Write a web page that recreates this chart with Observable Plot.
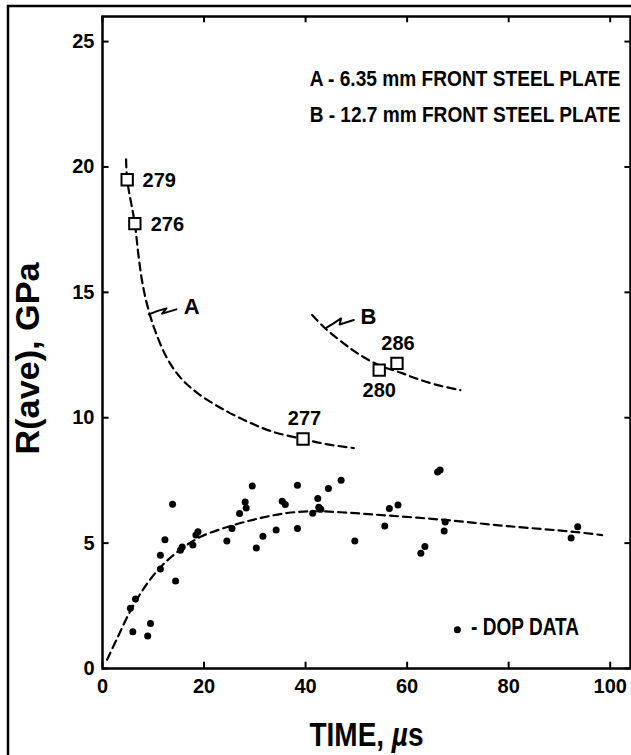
<!DOCTYPE html>
<html>
<head>
<meta charset="utf-8">
<script src="https://cdn.jsdelivr.net/npm/d3@7"></script>
<script src="https://cdn.jsdelivr.net/npm/@observablehq/plot@0.6"></script>
<style>
  html, body { margin: 0; padding: 0; background: #fff; overflow: hidden; }
  #chart { width: 631px; height: 755px; }
  #chart svg text { font-weight: 700; fill: #000; }
</style>
</head>
<body>
<div id="chart"></div>
<script>
// ---- axis ticks
const xTicks = [0, 20, 40, 60, 80, 100];
const yTicks = [0, 5, 10, 15, 20, 25];

// ---- DOP data (time in µs, R(ave) in GPa)
const dopTime = [5.97,5.5,6.5,8.9,9.45,11.4,11.4,12.3,13.8,14.4,15.35,15.7,17.8,18.4,18.8,24.5,25.5,27.0,28.1,28.3,29.5,30.3,31.6,34.2,35.4,36.0,38.4,38.4,41.4,42.4,42.6,43.0,44.5,47.0,49.7,55.6,56.5,58.2,62.7,63.5,66.0,66.5,67.3,67.5,92.3,93.6];
const dopR = [1.47,2.40,2.77,1.30,1.79,3.97,4.52,5.13,6.55,3.49,4.72,4.85,4.92,5.32,5.45,5.08,5.58,6.18,6.64,6.40,7.28,4.81,5.27,5.52,6.67,6.54,7.31,5.58,6.19,6.78,6.43,6.35,7.18,7.51,5.08,5.68,6.38,6.52,4.60,4.87,7.84,7.92,5.48,5.84,5.20,5.65];

// ---- DOP fit curve
const fitTime = [0.9,3,5.5,8.5,11.7,15.4,19.3,25.2,31.1,36.4,41.6,46.9,53.4,66.5,79.7,92.8,98.4];
const fitR    = [0.35,1.25,2.3,3.3,4.1,4.75,5.25,5.68,6.0,6.2,6.27,6.23,6.14,5.94,5.68,5.45,5.32];

// ---- Curve A (6.35 mm front steel plate)
const curveATime = [4.65,4.86,6.37,7.1,7.8,8.8,10.4,12.7,15.35,18.6,23.2,28.5,33.7,39.5,44.0,49.5];
const curveAR    = [20.3,19.49,17.74,16.45,15.45,14.5,13.45,12.38,11.6,11.0,10.4,9.85,9.43,9.15,8.95,8.79];

// ---- Curve B (12.7 mm front steel plate)
const curveBTime = [41.3,43.9,48.8,52.0,55.0,58.7,62.0,66.0,70.5];
const curveBR    = [14.1,13.56,12.77,12.35,12.05,11.8,11.55,11.3,11.1];

// ---- test shots (squares)
const shotId   = ["279","276","277","280","286"];
const shotTime = [4.86,6.37,39.5,54.5,58.0];
const shotR    = [19.49,17.74,9.15,11.9,12.17];
// labels to the right of their square
const sideLabel     = ["279","276"];
const sideLabelTime = [7.9,9.5];
const sideLabelR    = [19.47,17.7];
// labels centred above / below their square
const capLabel     = ["277","280","286"];
const capLabelTime = [39.8,54.5,58.2];
const capLabelR    = [9.95,11.1,12.97];

// ---- curve tags (zig-zag leaders)
const zigATime = [9.11,10.89,12.6,11.75,14.57];
const zigAR    = [14.12,14.26,14.36,14.15,14.32];
const zigBTime = [43.9,45.5,47.0,46.7,49.5];
const zigBR    = [13.56,13.76,13.96,13.72,13.9];
const tagText = ["A","B"];
const tagTime = [16.0,50.8];
const tagR    = [14.42,14.03];

// ---- legend
const legendText = ["A - 6.35 mm FRONT STEEL PLATE","B - 12.7 mm FRONT STEEL PLATE"];
const legendTime = [40.8,40.8];
const legendR    = [23.52,22.08];
const dopLegendDot = [{t: 69.9, r: 1.55}];
const dopLegendText = [{t: 72.6, r: 1.62, s: "- DOP DATA"}];

const xLabel = "TIME, µs";
const yLabel = "R(ave), GPa";

const idx = a => a.map((_, i) => i);
const FONT = "'Liberation Sans', Arial, Helvetica, sans-serif";

const dash = "8,5";
const chart = Plot.plot({
  width: 631,
  height: 755,
  marginLeft: 102,
  marginRight: 1,
  marginTop: 16,
  marginBottom: 87,
  x: {domain: [0, 104]},
  y: {domain: [0, 26]},
  style: {fontFamily: FONT, fontWeight: "bold", color: "black", background: "white", overflow: "hidden"},
  marks: [
    // inward ticks
    Plot.ruleX(xTicks, {x: d => d, y1: 0, y2: 0.25, stroke: "black", strokeWidth: 2}),
    Plot.ruleX(xTicks, {x: d => d, y1: 26, y2: 25.75, stroke: "black", strokeWidth: 2}),
    Plot.ruleY(yTicks, {y: d => d, x1: 0, x2: 1.3, stroke: "black", strokeWidth: 2}),
    Plot.ruleY(yTicks, {y: d => d, x1: 104, x2: 102.9, stroke: "black", strokeWidth: 2}),
    Plot.axisX(xTicks, {tickSize: 0, tickPadding: 10, fontSize: 20, label: null}),
    Plot.axisY(yTicks, {tickSize: 0, tickPadding: 8, fontSize: 20, label: null}),
    Plot.frame({stroke: "black", strokeWidth: 2.5}),
    // curves
    Plot.line(idx(fitTime), {x: i => fitTime[i], y: i => fitR[i], stroke: "black", strokeWidth: 2.2, strokeDasharray: dash, curve: "catmull-rom"}),
    Plot.line(idx(curveATime), {x: i => curveATime[i], y: i => curveAR[i], stroke: "black", strokeWidth: 2.2, strokeDasharray: dash, curve: "catmull-rom"}),
    Plot.line(idx(curveBTime), {x: i => curveBTime[i], y: i => curveBR[i], stroke: "black", strokeWidth: 2.2, strokeDasharray: dash, curve: "catmull-rom"}),
    Plot.line(idx(zigATime), {x: i => zigATime[i], y: i => zigAR[i], stroke: "black", strokeWidth: 2}),
    Plot.line(idx(zigBTime), {x: i => zigBTime[i], y: i => zigBR[i], stroke: "black", strokeWidth: 2}),
    // DOP data
    Plot.dot(idx(dopTime), {x: i => dopTime[i], y: i => dopR[i], r: 3.5, fill: "black"}),
    // shots
    Plot.dot(idx(shotTime), {x: i => shotTime[i], y: i => shotR[i], symbol: "square", r: 6.4, fill: "white", stroke: "black", strokeWidth: 2}),
    Plot.text(idx(sideLabel), {x: i => sideLabelTime[i], y: i => sideLabelR[i], text: i => sideLabel[i], textAnchor: "start", lineAnchor: "middle", fontSize: 20, fill: "black"}),
    Plot.text(idx(capLabel), {x: i => capLabelTime[i], y: i => capLabelR[i], text: i => capLabel[i], textAnchor: "middle", lineAnchor: "middle", fontSize: 20, fill: "black"}),
    Plot.text(idx(tagText), {x: i => tagTime[i], y: i => tagR[i], text: i => tagText[i], textAnchor: "start", lineAnchor: "middle", fontSize: 22, fill: "black"}),
    // legends
    Plot.text(idx(legendText), {x: i => legendTime[i], y: i => legendR[i], text: i => legendText[i], textAnchor: "start", lineAnchor: "middle", fontSize: 22, fill: "black"}),
    Plot.dot(dopLegendDot, {x: "t", y: "r", r: 3.5, fill: "black"}),
    Plot.text(dopLegendText, {x: "t", y: "r", text: "s", textAnchor: "start", lineAnchor: "middle", fontSize: 23, fill: "black"}),
    // axis titles
    Plot.text([xLabel], {frameAnchor: "bottom", dy: 67, text: d => d, textAnchor: "middle", lineAnchor: "middle", fontSize: 34, fill: "black"}),
    Plot.text([yLabel], {frameAnchor: "left", dx: -74, dy: 16, rotate: -90, text: d => d, textAnchor: "middle", lineAnchor: "middle", fontSize: 33, fill: "black"})
  ]
});

document.getElementById("chart").appendChild(chart);

// ---- typographic touch-ups (the original uses a condensed bold face)
const texts = Array.from(chart.querySelectorAll("text"));
const find = s => texts.filter(el => el.textContent === s);
function condense(el, target) {
  const w = el.getComputedTextLength();
  if (!w) return;
  const s = target / w;
  const x = +el.getAttribute("x") || 0, y = +el.getAttribute("y") || 0;
  const t = el.getAttribute("transform") || "";
  el.setAttribute("transform", `${t} translate(${x},${y}) scale(${s},1) translate(${-x},${-y})`);
}
legendText.forEach(s => find(s).forEach(el => condense(el, 311)));
find(dopLegendText[0].s).forEach(el => condense(el, 108));
find(xLabel).forEach(el => {
  el.textContent = "";
  const mk = (str, italic) => {
    const ts = document.createElementNS("http://www.w3.org/2000/svg", "tspan");
    ts.textContent = str;
    if (italic) ts.setAttribute("font-style", "italic");
    el.appendChild(ts);
  };
  mk("TIME, ", false); mk("µ", true); mk("s", false);
  condense(el, 114);
});
find(yLabel).forEach(el => condense(el, 192));
// outer picture border (left and top edges)
d3.select(chart).append("path").attr("d", "M8,755V6H631").attr("fill", "none").attr("stroke", "black").attr("stroke-width", 2.5);
</script>
</body>
</html>
